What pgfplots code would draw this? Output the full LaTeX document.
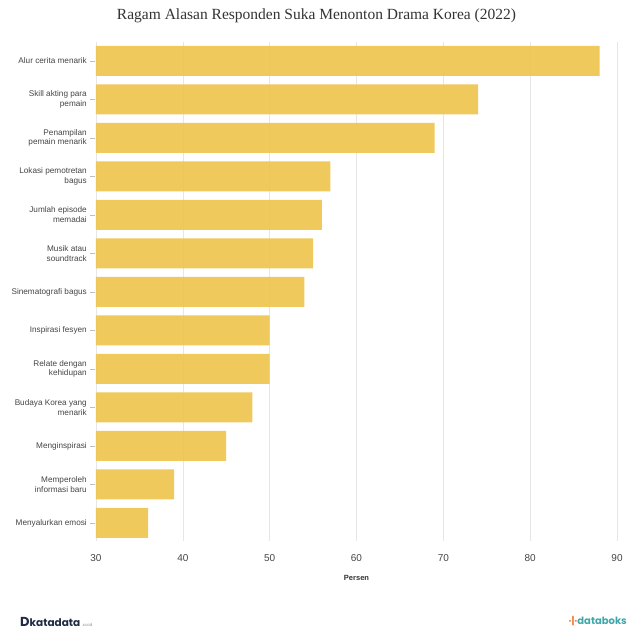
\documentclass[border=0pt]{standalone}
\usepackage{pgfplots}
\pgfplotsset{compat=1.18}
\usepackage{fontspec}
\setmainfont{Liberation Sans}
\newfontfamily\titlefont{Liberation Serif}
\newfontfamily\logofont{Poppins}
\definecolor{baryellow}{HTML}{EFC654}
\definecolor{gridgrey}{HTML}{E6E6E6}
\definecolor{labelgrey}{HTML}{444444}
\definecolor{katanavy}{HTML}{1F2A44}
\definecolor{databoks}{HTML}{3FA7A8}
\definecolor{dborange}{HTML}{F0803C}
\pgfplotstableread{
idx val
0 88
1 74
2 69
3 57
4 56
5 55
6 54
7 50
8 50
9 48
10 45
11 39
12 36
}\datatable
\begin{document}
\begin{tikzpicture}
\useasboundingbox (0pt,0pt) rectangle (627pt,630pt);
\node[font=\titlefont\fontsize{15.5}{18}\selectfont, text=black!80] at (316.5pt,614pt) {Ragam Alasan Responden Suka Menonton Drama Korea (2022)};
\begin{axis}[
  at={(96pt,89pt)}, anchor=south west,
  scale only axis,
  width=521pt, height=499pt,
  xbar, bar width=30pt,
  xmin=30, xmax=90,
  ymin=-0.49, ymax=12.47,
  y dir=reverse,
  axis line style={draw=none},
  xmajorgrids, grid style={gridgrey, line width=0.6pt},
  xtick={30,40,...,90},
  ytick={0,...,12},
  yticklabels={{Alur cerita menarik},{Skill akting para\\pemain},{Penampilan\\pemain menarik},{Lokasi pemotretan\\bagus},{Jumlah episode\\memadai},{Musik atau\\soundtrack},{Sinematografi bagus},{Inspirasi fesyen},{Relate dengan\\kehidupan},{Budaya Korea yang\\menarik},{Menginspirasi},{Memperoleh\\informasi baru},{Menyalurkan emosi}},
  yticklabel style={align=right, font=\fontsize{8.2}{9.8}\selectfont, text=labelgrey, inner sep=1pt, xshift=-8pt},
  xticklabel style={font=\fontsize{10}{12}\selectfont, text=labelgrey, yshift=-10pt},
  /pgf/number format/assume math mode=true,
  xlabel={Persen},
  xlabel style={font=\bfseries\fontsize{7.5}{9}\selectfont, text=black!80, yshift=-7pt},
  major tick length=0pt,
  xtick style={draw=none}, ytick style={draw=none},
  clip=false,
]
\addplot[draw=none, fill=baryellow, fill opacity=0.95, bar shift=0pt] table[x=val, y=idx] {\datatable};
\end{axis}
% y tick marks
\foreach \k in {0,...,12} {
  \draw[black!25, line width=0.5pt] (90pt,{(588-19-38.5*\k)*1pt}) -- (95pt,{(588-19-38.5*\k)*1pt});
}
\node[anchor=west, font=\logofont\bfseries\fontsize{10.5}{12}\selectfont, text=katanavy, inner sep=0] at (20pt,8pt) {{\fontsize{13}{13}\selectfont D}katadata\,{\fontsize{4}{5}\selectfont\mdseries\color{gray}.co.id}};
\node[anchor=east, font=\logofont\bfseries\fontsize{10}{12}\selectfont, text=databoks, inner sep=0] at (627pt,9pt) {{\color{dborange}\fontsize{10}{12}\selectfont\textperiodcentered\textbar\textperiodcentered}databoks};
\end{tikzpicture}
\end{document}
